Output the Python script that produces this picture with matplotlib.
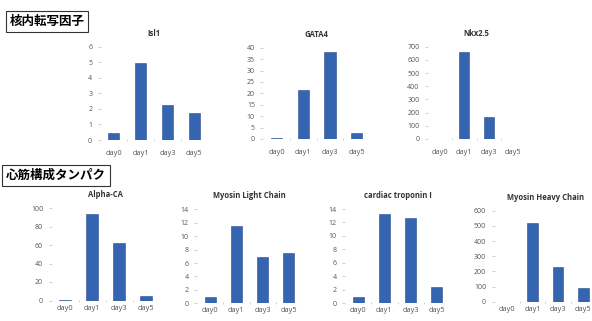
import matplotlib
matplotlib.use("Agg")
import matplotlib.pyplot as plt

plt.rcParams.update({"font.family": ["Open Sans", "DejaVu Sans"]})
BAR, EDGE = "#3565b0", "#284f90"

days = ["day0", "day1", "day3", "day5"]

isl1 = [0.47, 4.97, 2.23, 1.76]
gata4 = [0.6, 21.5, 38.0, 2.6]
nkx25 = [0, 657, 170, 0]
alpha_ca = [1.0, 94, 62, 4.5]
mlc = [0.9, 11.5, 6.85, 7.45]
ctni = [0.9, 13.25, 12.65, 2.4]
mhc = [0, 516, 226, 92]

W, H = 592, 321
fig = plt.figure(figsize=(W / 100, H / 100), dpi=100)

def px_axes(x0, x1, ybase, ytop):
    return fig.add_axes([x0 / W, 1 - ybase / H, (x1 - x0) / W, (ybase - ytop) / H])

def panel(x0, x1, ybase, ytop, title, vals, ymax, step, xpad):
    ax = px_axes(x0, x1, ybase, ytop)
    x = range(len(days))
    ax.bar(x, vals, width=0.42, color=BAR, edgecolor=EDGE, lw=0.4, clip_on=True)
    ax.set_xlim(-0.5, 3.5)
    ax.set_ylim(0, ymax)
    ax.set_yticks([step * i for i in range(int(round(ymax / step)) + 1)])
    for s in ax.spines.values():
        s.set_visible(False)
    ax.tick_params(axis="y", length=2, width=0.5, color="#bbbbbb", labelsize=5,
                   labelcolor="#555555", pad=4)
    ax.set_xticks(list(x))
    ax.set_xticklabels(days)
    ax.tick_params(axis="x", length=0, labelsize=5.3, labelcolor="#555555", pad=xpad)
    # category separators at baseline (Excel style)
    for b in [0.5, 1.5, 2.5]:
        ax.plot([b], [0], marker="|", ms=2, color="#bbbbbb", mew=0.5, clip_on=False)
    ax.set_title(title, fontsize=5.5, fontweight="bold", color="#333333", pad=8)
    return ax

# top row: transcription factors
panel(100.5, 207.5, 140, 46.7, "Isl1", isl1, 6, 1, 7)
panel(263.3, 370, 139, 47.7, "GATA4", gata4, 40, 5, 7)
panel(428, 525, 139, 46.7, "Nkx2.5", nkx25, 700, 100, 7)

# bottom row: cardiac structural proteins
panel(51.5, 159.5, 300.5, 208, "Alpha-CA", alpha_ca, 100, 20, 3)
panel(197, 302, 303.3, 209.3, "Myosin Light Chain", mlc, 14, 2, 3)
panel(345, 450, 303.3, 209, "cardiac troponin I", ctni, 14, 2, 3)
panel(494.5, 596, 301.7, 210.7, "Myosin Heavy Chain", mhc, 600, 100, 3)

box = dict(boxstyle="square,pad=0.3", fc="white", ec="#333333", lw=0.8)
fig.text(47 / W, 1 - 21.5 / H, "核内転写因子", ha="center", va="center", fontsize=9,
         fontweight="bold", family=["Noto Sans CJK JP", "DejaVu Sans"], bbox=box)
fig.text(56 / W, 1 - 175.5 / H, "心筋構成タンパク", ha="center", va="center", fontsize=9,
         fontweight="bold", family=["Noto Sans CJK JP", "DejaVu Sans"], bbox=box)

fig.savefig("out.png", dpi=100)
